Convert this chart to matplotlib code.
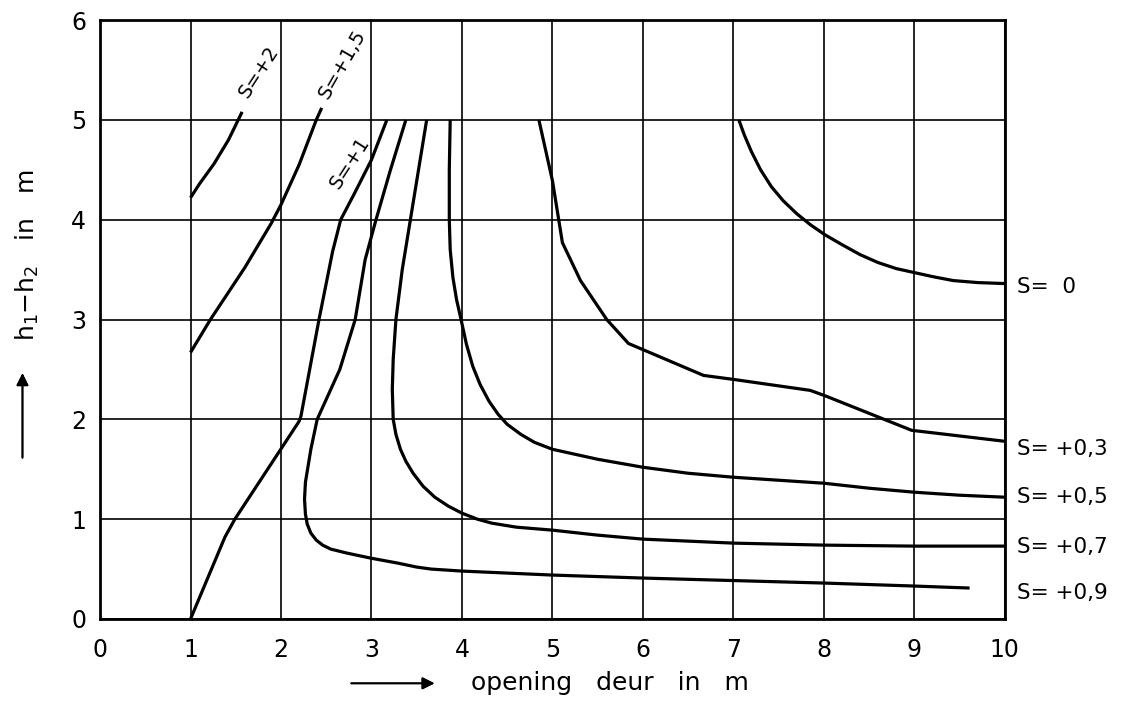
import matplotlib.pyplot as plt

s2_x = [1.0, 1.1, 1.26, 1.42, 1.57]
s2_y = [4.22, 4.36, 4.56, 4.80, 5.08]

s15_x = [1.0, 1.22, 1.6, 1.89, 2.0, 2.2, 2.39, 2.45]
s15_y = [2.67, 3.0, 3.52, 3.96, 4.15, 4.55, 5.0, 5.12]

s1_x = [1.0, 1.38, 1.49, 2.2, 2.22, 2.42, 2.57, 2.66, 2.81, 3.0, 3.17]
s1_y = [0.0, 0.82, 1.0, 1.98, 2.03, 3.0, 3.68, 4.0, 4.26, 4.6, 5.0]

s09_x = [3.38, 3.21, 3.05, 2.93, 2.82, 2.65, 2.50, 2.40, 2.33, 2.27, 2.26, 2.27,
         2.29, 2.33, 2.39, 2.46, 2.55, 2.73, 2.99, 3.29, 3.5, 3.66, 4.0, 5.0,
         6.0, 7.0, 8.0, 9.0, 9.61]
s09_y = [5.0, 4.5, 4.0, 3.6, 3.0, 2.5, 2.2, 2.0, 1.70, 1.37, 1.2, 1.05,
         0.95, 0.86, 0.79, 0.74, 0.70, 0.66, 0.61, 0.56, 0.52, 0.50, 0.48, 0.44,
         0.41, 0.385, 0.36, 0.33, 0.31]

s07_x = [3.61, 3.52, 3.43, 3.34, 3.27, 3.24, 3.23, 3.24, 3.27, 3.32, 3.38, 3.46,
         3.57, 3.7, 3.85, 4.0, 4.17, 4.33, 4.6, 5.0, 5.5, 6.0, 7.0, 8.0, 9.0, 10.0]
s07_y = [5.0, 4.5, 4.0, 3.5, 3.0, 2.6, 2.3, 2.0, 1.85, 1.70, 1.58, 1.46,
         1.33, 1.22, 1.13, 1.06, 1.0, 0.96, 0.92, 0.89, 0.84, 0.80, 0.76, 0.74, 0.73, 0.73]

s05_x = [3.87, 3.86, 3.86, 3.87, 3.90, 3.94, 3.99, 4.05, 4.12, 4.2, 4.3, 4.4,
         4.5, 4.65, 4.8, 5.0, 5.5, 6.0, 6.5, 7.0, 7.5, 8.0, 8.5, 9.0, 9.5, 10.0]
s05_y = [5.0, 4.5, 4.0, 3.7, 3.42, 3.2, 3.0, 2.75, 2.53, 2.35, 2.18, 2.05,
         1.95, 1.85, 1.77, 1.70, 1.60, 1.52, 1.46, 1.42, 1.39, 1.36, 1.31, 1.27, 1.24, 1.22]

s03_x = [4.85, 5.0, 5.11, 5.31, 5.60, 5.84, 6.67, 7.0, 7.85, 8.03, 8.97, 10.0]
s03_y = [5.0, 4.39, 3.77, 3.39, 3.0, 2.76, 2.44, 2.40, 2.29, 2.23, 1.89, 1.78]

s0_x = [7.06, 7.12, 7.2, 7.3, 7.42, 7.55, 7.7, 7.85, 8.01, 8.2, 8.4, 8.6, 8.8,
        9.0, 9.2, 9.43, 9.7, 10.0]
s0_y = [5.0, 4.85, 4.68, 4.5, 4.33, 4.19, 4.06, 3.95, 3.85, 3.75, 3.65, 3.57, 3.51,
        3.47, 3.43, 3.39, 3.37, 3.36]

right_labels = ["S=  0", "S= +0,3", "S= +0,5", "S= +0,7", "S= +0,9"]
right_label_y = [3.33, 1.70, 1.22, 0.72, 0.26]

curve_labels = ["S=+2", "S=+1,5", "S=+1"]
curve_label_x = [1.75, 2.68, 2.76]
curve_label_y = [5.48, 5.56, 4.57]
curve_label_rot = [57, 60, 57]

fig = plt.figure(figsize=(11.24, 7.03), dpi=100)
ax = fig.add_axes([0.089, 0.1195, 0.805, 0.852])

for xs, ys in [(s2_x, s2_y), (s15_x, s15_y), (s1_x, s1_y), (s09_x, s09_y),
               (s07_x, s07_y), (s05_x, s05_y), (s03_x, s03_y), (s0_x, s0_y)]:
    ax.plot(xs, ys, color="black", lw=2.3, solid_capstyle="butt",
            solid_joinstyle="round", zorder=3)

ax.set_xlim(0, 10)
ax.set_ylim(0, 6)
ax.set_xticks(range(0, 11))
ax.set_yticks(range(0, 7))
ax.grid(True, color="black", lw=1.2)
ax.set_axisbelow(True)
for sp in ax.spines.values():
    sp.set_linewidth(2)
ax.tick_params(length=0, labelsize=17)
ax.tick_params(axis="x", pad=14)
ax.tick_params(axis="y", pad=10)

for lab, yv in zip(right_labels, right_label_y):
    ax.text(10.13, yv, lab, fontsize=15.5, ha="left", va="center", clip_on=False)

for lab, xv, yv, r in zip(curve_labels, curve_label_x, curve_label_y, curve_label_rot):
    ax.text(xv, yv, lab, fontsize=14, rotation=r, ha="center", va="center",
            rotation_mode="anchor", clip_on=False)

# axis labels with arrows
fig.text(0.5427, 0.028, "opening   deur   in   m", fontsize=18, ha="center", va="center")
fig.add_artist(plt.annotate("", xy=(0.389, 0.028), xytext=(0.310, 0.028),
                            xycoords="figure fraction",
                            arrowprops=dict(arrowstyle="-|>", color="black", lw=1.3,
                                            mutation_scale=18)))
fig.text(0.024, 0.637, "h$_1$$-$h$_2$   in   m", fontsize=18, rotation=90,
         ha="center", va="center")
fig.add_artist(plt.annotate("", xy=(0.020, 0.473), xytext=(0.020, 0.345),
                            xycoords="figure fraction",
                            arrowprops=dict(arrowstyle="-|>", color="black", lw=1.3,
                                            mutation_scale=18)))

fig.savefig("out.png", dpi=100)
